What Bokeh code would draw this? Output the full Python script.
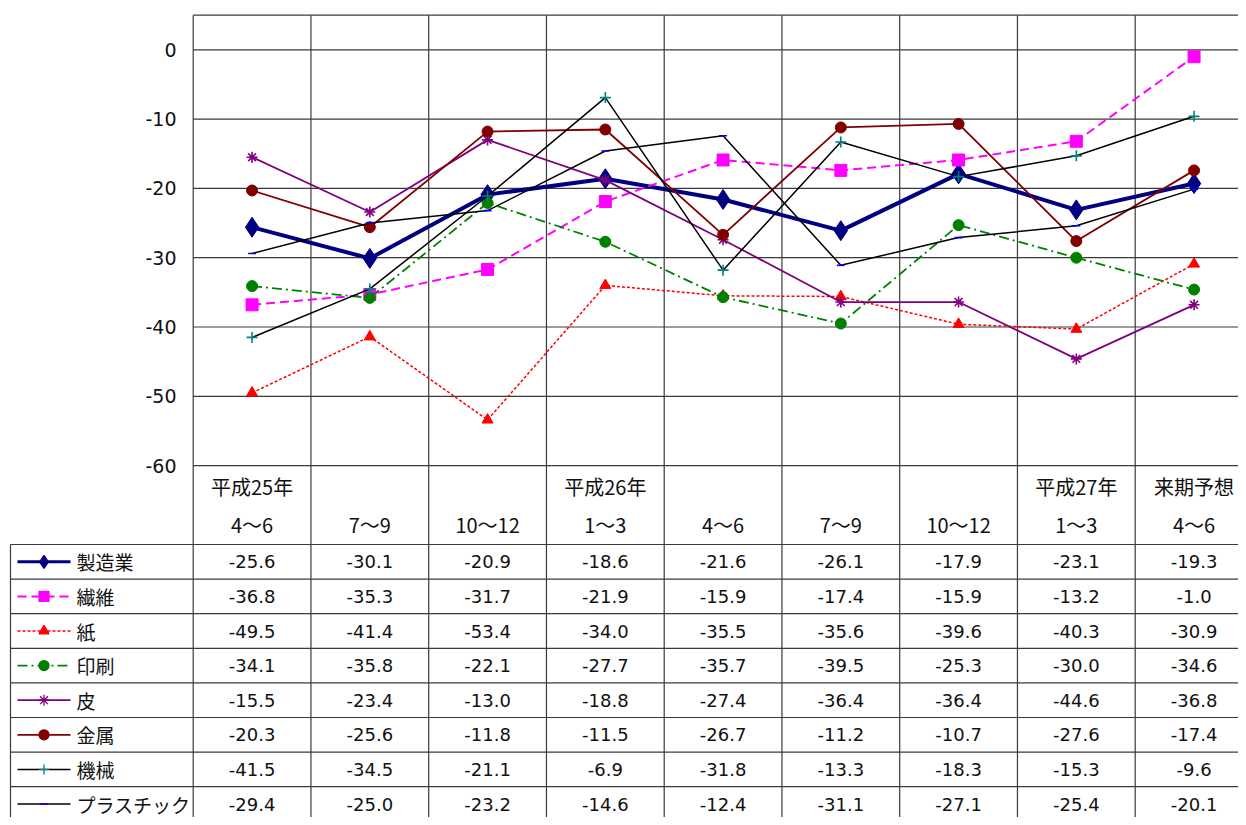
from bokeh.plotting import figure
from bokeh.models import Range1d
from bokeh.core.properties import value
from bokeh.embed import file_html
from bokeh.resources import INLINE

# ---------------- data ----------------
year_labels = ["平成25年", "", "", "平成26年", "", "", "", "平成27年", "来期予想"]
quarter_labels = ["4～6", "7～9", "10～12", "1～3", "4～6", "7～9", "10～12", "1～3", "4～6"]
y_ticks = [0, -10, -20, -30, -40, -50, -60]

series_names = ["製造業", "繊維", "紙", "印刷", "皮", "金属", "機械", "プラスチック"]
seizougyo = [-25.6, -30.1, -20.9, -18.6, -21.6, -26.1, -17.9, -23.1, -19.3]
sen_i = [-36.8, -35.3, -31.7, -21.9, -15.9, -17.4, -15.9, -13.2, -1.0]
kami = [-49.5, -41.4, -53.4, -34.0, -35.5, -35.6, -39.6, -40.3, -30.9]
insatsu = [-34.1, -35.8, -22.1, -27.7, -35.7, -39.5, -25.3, -30.0, -34.6]
kawa = [-15.5, -23.4, -13.0, -18.8, -27.4, -36.4, -36.4, -44.6, -36.8]
kinzoku = [-20.3, -25.6, -11.8, -11.5, -26.7, -11.2, -10.7, -27.6, -17.4]
kikai = [-41.5, -34.5, -21.1, -6.9, -31.8, -13.3, -18.3, -15.3, -9.6]
plastic = [-29.4, -25.0, -23.2, -14.6, -12.4, -31.1, -27.1, -25.4, -20.1]
series_values = [seizougyo, sen_i, kami, insatsu, kawa, kinzoku, kikai, plastic]

# ---------------- styles ----------------
styles = [
    dict(line_color="#000080", line_width=4, dash="solid", marker="diamond", m_color="#000080", m_line="#000080", size=20, lsize=13),
    dict(line_color="#FF00FF", line_width=2, dash="9 5", marker="square", m_color="#FF00FF", m_line="#FF00FF", size=12, lsize=10),
    dict(line_color="#FF0000", line_width=1.5, dash="3 2", marker="triangle", m_color="#FF0000", m_line="#FF0000", size=11, lsize=10),
    dict(line_color="#008000", line_width=1.8, dash="10 4 2 4", marker="circle", m_color="#008000", m_line="#008000", size=11, lsize=10),
    dict(line_color="#800080", line_width=1.8, dash="solid", marker="asterisk", m_color="#800080", m_line="#800080", size=11, lsize=11),
    dict(line_color="#800000", line_width=1.8, dash="solid", marker="circle", m_color="#800000", m_line="#800000", size=11, lsize=10),
    dict(line_color="#000000", line_width=1.5, dash="solid", marker="cross", m_color="#008080", m_line="#008080", size=11, lsize=10),
    dict(line_color="#000000", line_width=1.5, dash="solid", marker="dash", m_color="#0000FF", m_line="#0000FF", size=8, lsize=8),
]

# ---------------- layout geometry (pixels) ----------------
W, H = 1238, 817
X0, CW = 192.7, 117.75      # left of plot area, column width
Y0, YU = 49.3, 6.93         # pixel of y=0, pixels per unit
ROW0, RH = 544.0, 34.6      # first table row line, row height
LEG_L = 10.0

def px_x(px):
    return (px - X0) / CW

def px_y(py):
    return (Y0 - py) / YU

CJK = value("Noto Sans CJK JP")
NUM = value("DejaVu Sans")

p = figure(width=W, height=H, output_backend="svg", toolbar_location=None,
           x_range=Range1d(px_x(0), px_x(W)),
           y_range=Range1d(px_y(H), px_y(0)),
           x_axis_type=None, y_axis_type=None, min_border=0)
p.outline_line_color = None
p.xgrid.visible = False
p.ygrid.visible = False
p.background_fill_color = "white"
p.border_fill_color = "white"

n = len(quarter_labels)
x_right = px_x(W + 5)
y_top = 5
y_bottom = px_y(H + 5)
GRID = "#3a3a3a"

# horizontal gridlines + top border
hy = [y_top] + y_ticks
p.segment(x0=[0] * len(hy), y0=hy, x1=[x_right] * len(hy), y1=hy, line_color=GRID, line_width=1.2)
# vertical column lines through plot and table
vx = list(range(n))
p.segment(x0=vx, y0=[y_top] * len(vx), x1=vx, y1=[y_bottom] * len(vx), line_color=GRID, line_width=1.2)
# table row lines
rows_py = [ROW0 + k * RH for k in range(len(series_names) + 1)]
ry = [px_y(v) for v in rows_py]
p.segment(x0=[px_x(LEG_L)] * len(ry), y0=ry, x1=[x_right] * len(ry), y1=ry, line_color=GRID, line_width=1.2)
# legend column left border
p.segment(x0=[px_x(LEG_L)], y0=[px_y(ROW0)], x1=[px_x(LEG_L)], y1=[y_bottom], line_color=GRID, line_width=1.2)

# y tick labels
p.text(x=[px_x(176)] * len(y_ticks), y=y_ticks, text=[str(t) for t in y_ticks],
       text_font=NUM, text_font_size="19px", text_align="right", text_baseline="middle",
       text_color="#111111")

# series lines
xs = [i + 0.5 for i in range(n)]
for vals, st in zip(series_values, styles):
    p.line(xs, vals, line_color=st["line_color"], line_width=st["line_width"], line_dash=st["dash"])
    p.scatter(xs, vals, marker=st["marker"], size=st["size"], fill_color=st["m_color"],
              line_color=st["m_line"], line_width=1.6 if st["marker"] in ("cross", "asterisk", "dash") else 1)

# header rows
p.text(x=xs, y=[px_y(486)] * n, text=year_labels, text_font=CJK, text_font_size="20px",
       text_align="center", text_baseline="middle", text_color="#111111")
p.text(x=xs, y=[px_y(524)] * n, text=quarter_labels, text_font=CJK, text_font_size="20px",
       text_align="center", text_baseline="middle", text_color="#111111")

# table body
for k, (name, vals, st) in enumerate(zip(series_names, series_values, styles)):
    cy = px_y(ROW0 + (k + 0.5) * RH)
    p.text(x=xs, y=[cy] * n, text=["%.1f" % v for v in vals], text_font=NUM, text_font_size="18px",
           text_align="center", text_baseline="middle", text_color="#111111")
    # legend key
    p.line([px_x(17), px_x(70)], [cy, cy], line_color=st["line_color"],
           line_width=min(st["line_width"], 3), line_dash=st["dash"])
    p.scatter([px_x(43.5)], [cy], marker=st["marker"], size=st["lsize"], fill_color=st["m_color"],
              line_color=st["m_line"], line_width=1.3)
    p.text(x=[px_x(76)], y=[cy], text=[name], text_font=CJK, text_font_size="19px",
           text_align="left", text_baseline="middle", text_color="#111111")

open("out.html", "w").write(file_html(p, INLINE))
